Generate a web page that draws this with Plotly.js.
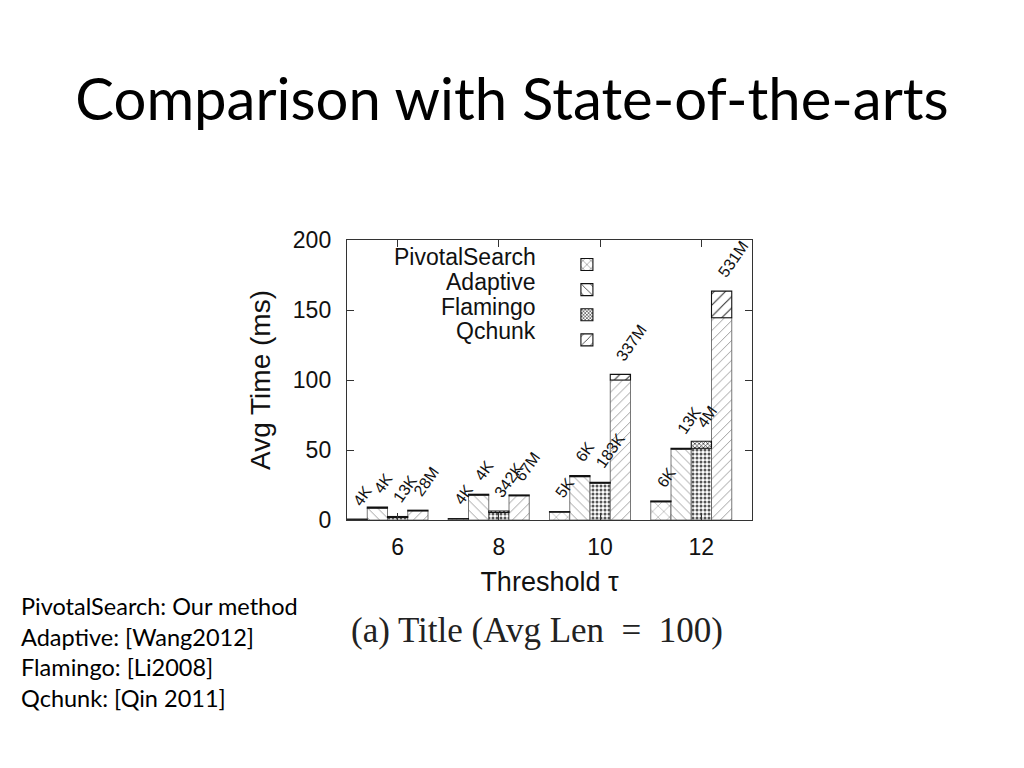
<!DOCTYPE html>
<html>
<head>
<meta charset="utf-8">
<script src="https://cdn.plot.ly/plotly-3.0.1.min.js"></script>
<style>
  html, body { margin: 0; padding: 0; background: #fff; }
  #chart { width: 1024px; height: 768px; }
</style>
</head>
<body>
<div id="chart"></div>
<script>
const thresholds = [6, 8, 10, 12];
const seriesNames = ["PivotalSearch", "Adaptive", "Flamingo", "Qchunk"];

// total bar height and the lower (dashed) part, in ms
const pivotalTotal = [0.6, 1.0, 6.0, 13.6];
const pivotalLower = [0.5, 0.8, 5.6, 13.0];
const adaptiveTotal = [9.3, 18.4, 31.8, 51.3];
const adaptiveLower = [8.5, 17.7, 31.0, 50.5];
const flamingoTotal = [2.5, 6.4, 27.0, 56.2];
const flamingoLower = [1.8, 5.4, 26.2, 51.2];
const qchunkTotal = [7.0, 17.9, 104.0, 163.5];
const qchunkLower = [6.5, 17.3, 100.0, 144.5];

// candidate counts printed above the bars
const pivotalCounts = ["4K", "4K", "5K", "6K"];
const adaptiveCounts = ["4K", "4K", "6K", "13K"];
const flamingoCounts = ["13K", "342K", "183K", "4M"];
const qchunkCounts = ["28M", "67M", "337M", "531M"];

const yTicks = [0, 50, 100, 150, 200];
const methodNotes = ["PivotalSearch: Our method", "Adaptive: [Wang2012]", "Flamingo: [Li2008]", "Qchunk: [Qin 2011]"];

const totals = [pivotalTotal, adaptiveTotal, flamingoTotal, qchunkTotal];
const lowers = [pivotalLower, adaptiveLower, flamingoLower, qchunkLower];
const counts = [pivotalCounts, adaptiveCounts, flamingoCounts, qchunkCounts];

const BAR_WIDTH = 0.4;
const GROUP_START = -1.0;
const CHART_FONT = '"Liberation Sans", Arial, sans-serif';

const upperPatterns = [
    { shape: "x", size: 7, solidity: 0.12, fgcolor: "#222" },
    { shape: "\\", size: 8, solidity: 0.12, fgcolor: "#222" },
    { shape: "x", size: 3, solidity: 0.4, fgcolor: "#222" },
    { shape: "/", size: 8, solidity: 0.12, fgcolor: "#222" }
];
const lowerPatterns = [
    { shape: "x", size: 8, solidity: 0.1, fgcolor: "#777" },
    { shape: "\\", size: 7, solidity: 0.1, fgcolor: "#777" },
    { shape: ".", size: 4, solidity: 0.45, fgcolor: "#555" },
    { shape: "/", size: 7, solidity: 0.1, fgcolor: "#777" }
];

function barOffset(i) {
    return GROUP_START + (BAR_WIDTH * i);
}

function buildTraces() {
    const traces = [];

    seriesNames.forEach((name, i) => {
        traces.push({
            type: "bar",
            x: thresholds,
            y: lowers[i],
            offset: barOffset(i),
            width: BAR_WIDTH,
            showlegend: false,
            hoverinfo: "skip",
            marker: {
                color: "#fff",
                pattern: { ...lowerPatterns[i], bgcolor: "#fff" },
                line: { color: "#555", width: 0.8 }
            }
        });
    });

    seriesNames.forEach((name, i) => {
        traces.push({
            type: "bar",
            name: "",
            x: thresholds,
            y: totals[i].map((t, j) => t - lowers[i][j]),
            base: lowers[i],
            offset: barOffset(i),
            width: BAR_WIDTH,
            showlegend: true,
            hoverinfo: "skip",
            marker: {
                color: "#fff",
                pattern: { ...upperPatterns[i], bgcolor: "#fff" },
                line: { color: "#111", width: 1.1 }
            }
        });
    });

    return traces;
}

function buildCountLabels() {
    const labels = [];

    seriesNames.forEach((name, i) => {
        thresholds.forEach((t, j) => {
            labels.push({
                x: t + barOffset(i),
                y: totals[i][j],
                xref: "x",
                yref: "y",
                text: counts[i][j],
                textangle: -55,
                showarrow: false,
                xanchor: "left",
                yanchor: "bottom",
                yshift: 8,
                font: { family: CHART_FONT, size: 16, color: "#111" }
            });
        });
    });

    return labels;
}

function buildLegendLabels() {
    return seriesNames.map((name, i) => ({
        x: 0.4716,
        y: 0.939 - (0.0885 * i),
        xref: "paper",
        yref: "paper",
        text: name,
        showarrow: false,
        xanchor: "right",
        yanchor: "middle",
        font: { family: CHART_FONT, size: 23, color: "#111" }
    }));
}

function buildTextBlocks() {
    return [
        {
            x: -0.81,
            y: -0.47,
            xref: "paper",
            yref: "paper",
            text: methodNotes.join("<br>"),
            align: "left",
            showarrow: false,
            xanchor: "left",
            yanchor: "middle",
            font: { family: "Lato, sans-serif", size: 23.5, color: "#000" }
        },
        {
            x: 0.47,
            y: -0.395,
            xref: "paper",
            yref: "paper",
            text: "(a) Title (Avg Len  =  100)",
            showarrow: false,
            xanchor: "center",
            yanchor: "middle",
            font: { family: '"Liberation Serif", serif', size: 35, color: "#222" }
        }
    ];
}

const layout = {
    width: 1024,
    height: 768,
    margin: { l: 347, r: 272, t: 240, b: 248 },
    paper_bgcolor: "#fff",
    plot_bgcolor: "#fff",
    font: { family: CHART_FONT, color: "#111" },
    barmode: "overlay",
    title: {
        text: "Comparison with State-of-the-arts",
        font: { family: "Lato, sans-serif", size: 58, color: "#000" },
        xref: "container",
        yref: "container",
        x: 0.5,
        xanchor: "center",
        y: 0.87,
        yanchor: "middle"
    },
    xaxis: {
        range: [5.0, 13.0],
        tickvals: thresholds,
        ticks: "inside",
        ticklen: 7,
        tickcolor: "#333",
        showline: true,
        linecolor: "#333",
        linewidth: 1.2,
        mirror: "ticks",
        showgrid: false,
        zeroline: false,
        ticklabelstandoff: 6,
        tickfont: { size: 23, color: "#111" },
        title: { text: "Threshold τ", font: { size: 27, color: "#111" }, standoff: 13 }
    },
    yaxis: {
        range: [0, 200],
        tickvals: yTicks,
        ticks: "inside",
        ticklen: 7,
        tickcolor: "#333",
        showline: true,
        linecolor: "#333",
        linewidth: 1.2,
        mirror: "ticks",
        showgrid: false,
        zeroline: false,
        ticklabelstandoff: 10,
        tickfont: { size: 23, color: "#111" },
        title: { text: "Avg Time (ms)", font: { size: 28, color: "#111" }, standoff: 14 }
    },
    legend: {
        x: 0.543,
        xanchor: "left",
        y: 0.975,
        yanchor: "top",
        bgcolor: "rgba(0,0,0,0)",
        borderwidth: 0,
        tracegroupgap: 0,
        font: { size: 17 }
    },
    annotations: [...buildCountLabels(), ...buildLegendLabels(), ...buildTextBlocks()]
};

Plotly.newPlot("chart", buildTraces(), layout, { staticPlot: true, displayModeBar: false });
</script>
</body>
</html>
